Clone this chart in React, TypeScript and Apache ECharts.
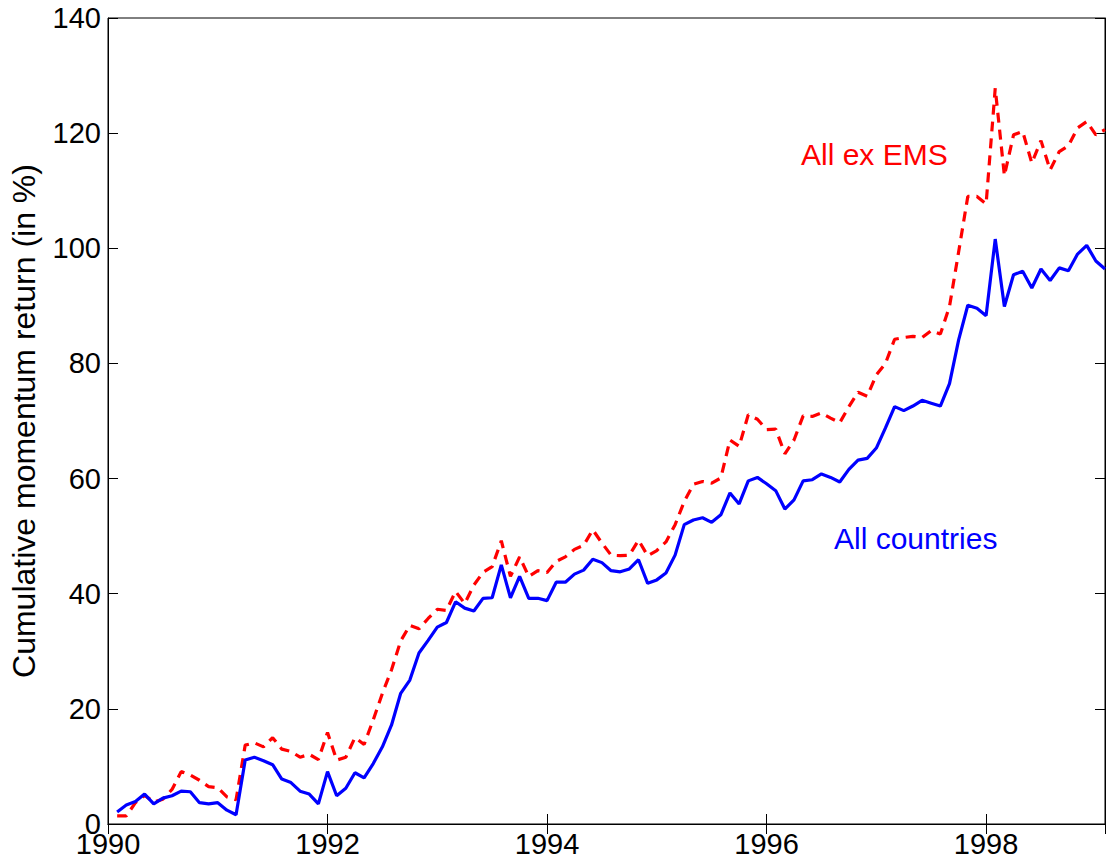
import React, { useEffect, useRef } from "react";
import * as echarts from "echarts";

// Monthly observations, Jan 1990 .. Jan 1999 (109 months)
const startYear = 1990;
const allCountries = [
  2.1, 3.3, 3.9, 5.2, 3.5, 4.5, 4.9, 5.7, 5.6, 3.7, 3.5, 3.7,
  2.4, 1.6, 11.1, 11.6, 11.0, 10.3, 7.8, 7.2, 5.7, 5.2, 3.5, 9.1,
  4.9, 6.2, 8.9, 8.0, 10.5, 13.4, 17.2, 22.7, 25.0, 29.7, 31.9, 34.2,
  35.0, 38.6, 37.5, 37.0, 39.2, 39.3, 45.0, 39.3, 43.0, 39.2, 39.2, 38.8,
  42.0, 42.0, 43.4, 44.1, 46.0, 45.4, 44.0, 43.8, 44.3, 45.9, 41.8, 42.4,
  43.6, 46.7, 52.0, 52.8, 53.2, 52.4, 53.7, 57.5, 55.6, 59.6, 60.2, 59.1,
  57.9, 54.7, 56.3, 59.6, 59.8, 60.8, 60.2, 59.4, 61.6, 63.2, 63.5, 65.3,
  68.8, 72.5, 71.8, 72.6, 73.6, 73.1, 72.6, 76.5, 84.1, 90.1, 89.6, 88.3,
  101.6, 89.9, 95.4, 96.0, 93.1, 96.4, 94.4, 96.6, 96.1, 99.0, 100.5, 97.8,
  96.4,
];
const allExEMS = [
  1.4, 1.4, 3.7, 5.0, 3.8, 4.3, 6.0, 9.1, 8.5, 7.6, 6.5, 6.3,
  4.7, 4.2, 13.7, 14.1, 13.4, 15.0, 13.0, 12.6, 11.6, 12.1, 11.2, 15.9,
  11.1, 11.6, 15.0, 13.8, 18.1, 22.7, 26.8, 31.8, 34.5, 33.9, 35.7, 37.3,
  37.1, 40.4, 38.3, 41.5, 43.7, 44.7, 49.2, 43.0, 46.4, 43.0, 44.0, 43.7,
  45.6, 46.4, 47.7, 48.4, 51.1, 48.8, 46.7, 46.6, 46.7, 49.3, 46.6, 47.5,
  49.0, 52.0, 56.0, 59.0, 59.5, 59.2, 60.1, 66.7, 65.6, 71.1, 70.3, 68.5,
  68.6, 64.3, 66.7, 70.9, 70.8, 71.4, 70.5, 69.7, 72.5, 75.0, 74.3, 78.0,
  80.0, 84.2, 84.5, 84.7, 84.5, 85.7, 85.1, 89.9, 99.4, 109.0, 109.0, 107.7,
  127.8, 112.6, 119.7, 120.3, 114.8, 118.7, 113.6, 116.8, 117.8, 120.9, 122.0, 119.7,
  120.6,
];
const xTickLabels = ["1990", "1992", "1994", "1996", "1998"];
const yTicks = [0, 20, 40, 60, 80, 100, 120, 140];
const seriesNames = ["All countries", "All ex EMS"];
const yTitle = "Cumulative momentum return (in %)";

const FONT = "'Liberation Sans', Arial, Helvetica, sans-serif";

export default function App() {
  const ref = useRef<HTMLDivElement>(null);
  useEffect(() => {
    if (!ref.current) return;
    const chart = echarts.init(ref.current, null, { renderer: "svg" });
    const toPairs = (arr: number[]) =>
      arr.map((v, i) => [startYear + (i + 1) / 12, v]);
    const xMax = startYear + allCountries.length / 12;
    const xFmt = (v: number) => {
      const s = String(Math.round(v));
      return Math.abs(v - Math.round(v)) < 1e-6 && xTickLabels.includes(s) ? s : "";
    };
    const tickStyle = { inside: true, length: 10, lineStyle: { color: "#000", width: 1 } };
    chart.setOption({
      animation: false,
      backgroundColor: "#fff",
      grid: {
        left: 106,
        right: 4,
        top: 18,
        bottom: 40,
        show: true,
        borderColor: "#000",
        borderWidth: 1,
      },
      xAxis: [
        {
          type: "value",
          min: startYear,
          max: xMax,
          interval: 2,
          axisLine: { show: true, lineStyle: { color: "#000", width: 1 } },
          axisTick: tickStyle,
          splitLine: { show: false },
          axisLabel: {
            color: "#000",
            fontSize: 29,
            fontFamily: FONT,
            margin: 5,
            showMaxLabel: false,
            formatter: xFmt,
          },
        },
        {
          type: "value",
          position: "top",
          min: startYear,
          max: xMax,
          interval: 2,
          axisLine: { show: true, lineStyle: { color: "#000", width: 1 } },
          axisTick: tickStyle,
          splitLine: { show: false },
          axisLabel: { show: false },
        },
      ],
      yAxis: [
        {
          type: "value",
          min: yTicks[0],
          max: yTicks[yTicks.length - 1],
          interval: 20,
          name: yTitle,
          nameLocation: "middle",
          nameRotate: 90,
          nameGap: 68,
          nameTextStyle: { color: "#000", fontSize: 32, fontFamily: FONT },
          axisLine: { show: true, lineStyle: { color: "#000", width: 1 } },
          axisTick: tickStyle,
          splitLine: { show: false },
          axisLabel: { color: "#000", fontSize: 29, fontFamily: FONT, margin: 7 },
        },
        {
          type: "value",
          position: "right",
          min: yTicks[0],
          max: yTicks[yTicks.length - 1],
          interval: 20,
          axisLine: { show: true, lineStyle: { color: "#000", width: 1 } },
          axisTick: tickStyle,
          splitLine: { show: false },
          axisLabel: { show: false },
        },
      ],
      series: [
        {
          name: seriesNames[1],
          type: "line",
          data: toPairs(allExEMS),
          showSymbol: false,
          symbol: "none",
          lineStyle: { color: "#ff0000", width: 3.2, type: [10, 7] },
          z: 2,
        },
        {
          name: seriesNames[0],
          type: "line",
          data: toPairs(allCountries),
          showSymbol: false,
          symbol: "none",
          lineStyle: { color: "#0000ff", width: 3.2, type: "solid" },
          z: 3,
        },
      ],
      graphic: [
        {
          type: "text",
          left: 801,
          top: 139,
          style: { text: seriesNames[1], fill: "#ff0000", font: `30px ${FONT}` },
        },
        {
          type: "text",
          left: 834,
          top: 523,
          style: { text: seriesNames[0], fill: "#0000ff", font: `30px ${FONT}` },
        },
      ],
    });
    return () => chart.dispose();
  }, []);
  return (
    <div
      ref={ref}
      style={{ position: "fixed", left: 0, top: 0, width: 1109, height: 864 }}
    />
  );
}
